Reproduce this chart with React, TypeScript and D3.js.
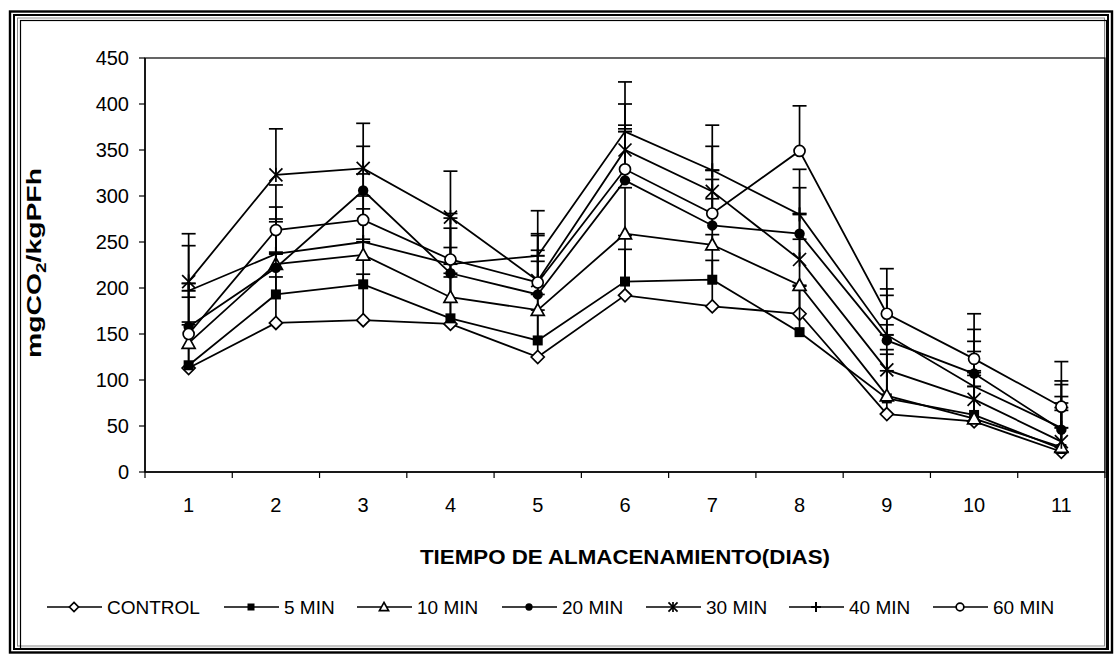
import React from 'react';
import * as d3 from 'd3';

const days = ['1', '2', '3', '4', '5', '6', '7', '8', '9', '10', '11'];
const yTicks = [0, 50, 100, 150, 200, 250, 300, 350, 400, 450];

const seriesNames = ['CONTROL', '5 MIN', '10 MIN', '20 MIN', '30 MIN', '40 MIN', '60 MIN'];
const markerKinds = ['diamond', 'square', 'triangle', 'dot', 'asterisk', 'plus', 'circle'];

const control = [113, 162, 165, 161, 125, 192, 180, 172, 63, 55, 22];
const min5 = [116, 193, 204, 167, 143, 207, 209, 152, 80, 62, 25];
const min10 = [140, 226, 236, 190, 176, 259, 247, 203, 83, 58, 27];
const min20 = [158, 222, 306, 216, 193, 317, 268, 259, 143, 107, 46];
const min30 = [207, 323, 330, 277, 208, 350, 305, 231, 111, 79, 33];
const min40 = [197, 237, 250, 226, 235, 370, 328, 280, 149, 93, 48];
const min60 = [150, 263, 274, 231, 206, 329, 281, 349, 172, 123, 71];

const errControl = [47, 50, 50, 51, 51, 50, 50, 31, 47, 50, 45];
const err5 = [47, 46, 49, 49, 50, 50, 49, 50, 48, 48, 45];
const err10 = [50, 49, 50, 54, 53, 50, 50, 50, 50, 50, 48];
const err20 = [47, 50, 48, 49, 48, 56, 50, 50, 49, 48, 53];
const err30 = [52, 50, 49, 50, 51, 50, 49, 50, 49, 52, 49];
const err40 = [49, 51, 50, 50, 49, 54, 49, 49, 50, 49, 47];
const err60 = [55, 49, 50, 50, 51, 48, 47, 49, 49, 49, 49];

const seriesValues = [control, min5, min10, min20, min30, min40, min60];
const seriesErrors = [errControl, err5, err10, err20, err30, err40, err60];

const W = 1120;
const H = 655;
const plot = { left: 145, right: 1105, top: 58, bottom: 472 };
const FONT = '"Liberation Sans", Arial, sans-serif';

function Marker({ kind, x, y, s = 1 }: { kind: string; x: number; y: number; s?: number }) {
  const sw = 1.7;
  switch (kind) {
    case 'diamond': {
      const r = 6.5 * s;
      return <path d={`M${x},${y - r}L${x + r},${y}L${x},${y + r}L${x - r},${y}Z`} fill="#fff" stroke="#000" strokeWidth={sw} />;
    }
    case 'square': {
      const r = 5 * s;
      return <rect x={x - r} y={y - r} width={2 * r} height={2 * r} fill="#000" />;
    }
    case 'triangle': {
      const r = 6.5 * s;
      return <path d={`M${x},${y - r}L${x + r},${y + r * 0.8}L${x - r},${y + r * 0.8}Z`} fill="#fff" stroke="#000" strokeWidth={sw} />;
    }
    case 'dot':
      return <circle cx={x} cy={y} r={5.2 * s} fill="#000" />;
    case 'asterisk': {
      const r = 6.5 * s;
      return (
        <g stroke="#000" strokeWidth={sw}>
          <line x1={x - r} y1={y - r} x2={x + r} y2={y + r} />
          <line x1={x - r} y1={y + r} x2={x + r} y2={y - r} />
          <line x1={x} y1={y - r * 1.1} x2={x} y2={y + r * 1.1} />
        </g>
      );
    }
    case 'plus': {
      const r = 7 * s;
      return (
        <g stroke="#000" strokeWidth={2}>
          <line x1={x - r} y1={y} x2={x + r} y2={y} />
          <line x1={x} y1={y - r} x2={x} y2={y + r} />
        </g>
      );
    }
    case 'circle':
      return <circle cx={x} cy={y} r={5.5 * s} fill="#fff" stroke="#000" strokeWidth={sw} />;
    default:
      return null;
  }
}

export default function App() {
  const x = d3.scaleBand<string>().domain(days).range([plot.left, plot.right]).padding(0);
  const y = d3.scaleLinear().domain([0, 450]).range([plot.bottom, plot.top]);
  const cx = (d: string) => (x(d) as number) + x.bandwidth() / 2;

  const line = d3
    .line<number>()
    .x((_, i) => cx(days[i]))
    .y((v) => y(v));

  const boundaries = days.map((d) => x(d) as number).concat([plot.right]);

  const legendLineStart = [47, 224, 357, 502, 646, 789, 933];
  const legendY = 607;

  return (
    <svg width={W} height={H} style={{ position: 'absolute', left: 0, top: 0, background: '#fff' }} fontFamily={FONT}>
      <rect x={0} y={0} width={W} height={H} fill="#fff" />
      {/* frame */}
      <rect x={10} y={11.5} width={1102} height={641} fill="none" stroke="#000" strokeWidth={2.4} />
      <rect x={14} y={15} width={1094} height={634} fill="none" stroke="#000" strokeWidth={2} />
      <rect x={17.5} y={18} width={1087} height={628} fill="none" stroke="#888" strokeWidth={1} />
      <rect x={20.5} y={20.5} width={1086} height={628} fill="none" stroke="#000" strokeWidth={1.2} />

      {/* plot area border */}
      <rect x={plot.left} y={plot.top} width={plot.right - plot.left} height={plot.bottom - plot.top} fill="none" stroke="#000" strokeWidth={1.2} />

      {/* y axis */}
      <line x1={plot.left} y1={plot.top} x2={plot.left} y2={plot.bottom} stroke="#000" strokeWidth={1.5} />
      {yTicks.map((t) => (
        <g key={t}>
          <line x1={plot.left - 6} x2={plot.left} y1={y(t)} y2={y(t)} stroke="#000" strokeWidth={1.2} />
          <text x={129} y={y(t)} dy="0.35em" textAnchor="end" fontSize={20} fill="#000">
            {t}
          </text>
        </g>
      ))}

      {/* x axis */}
      <line x1={plot.left} y1={plot.bottom} x2={plot.right} y2={plot.bottom} stroke="#000" strokeWidth={1.5} />
      {boundaries.map((b, i) => (
        <line key={i} x1={b} x2={b} y1={plot.bottom} y2={plot.bottom + 6} stroke="#000" strokeWidth={1.2} />
      ))}
      {days.map((d) => (
        <text key={d} x={cx(d)} y={512} textAnchor="middle" fontSize={20} fill="#000">
          {d}
        </text>
      ))}

      {/* axis titles */}
      <text x={625} y={564} textAnchor="middle" fontSize={20} fontWeight="bold" fill="#000" textLength={410} lengthAdjust="spacingAndGlyphs">
        TIEMPO DE ALMACENAMIENTO(DIAS)
      </text>
      <text transform={`translate(41,${(plot.top + plot.bottom) / 2 - 2}) rotate(-90)`} textAnchor="middle" fontSize={21} fontWeight="bold" fill="#000" textLength={190} lengthAdjust="spacingAndGlyphs">
        mgCO<tspan fontSize={14} dy={5}>2</tspan>
        <tspan dy={-5}>/kgPFh</tspan>
      </text>

      {/* series */}
      {seriesValues.map((vals, si) => (
        <g key={si}>
          <path d={line(vals) || ''} fill="none" stroke="#000" strokeWidth={1.8} />
          {vals.map((v, i) => {
            const px = cx(days[i]);
            const top = y(v + seriesErrors[si][i]);
            return (
              <g key={i} stroke="#000" strokeWidth={1.7}>
                <line x1={px} x2={px} y1={y(v)} y2={top} />
                <line x1={px - 7} x2={px + 7} y1={top} y2={top} />
              </g>
            );
          })}
          {vals.map((v, i) => (
            <Marker key={i} kind={markerKinds[si]} x={cx(days[i])} y={y(v)} />
          ))}
        </g>
      ))}

      {/* legend */}
      {seriesNames.map((name, i) => {
        const x0 = legendLineStart[i];
        return (
          <g key={name}>
            <line x1={x0} x2={x0 + 55} y1={legendY} y2={legendY} stroke="#000" strokeWidth={1.6} />
            <Marker kind={markerKinds[i]} x={x0 + 27} y={legendY} s={0.7} />
            <text x={x0 + 60} y={legendY} dy="0.35em" fontSize={19} fill="#000">
              {name}
            </text>
          </g>
        );
      })}
    </svg>
  );
}
